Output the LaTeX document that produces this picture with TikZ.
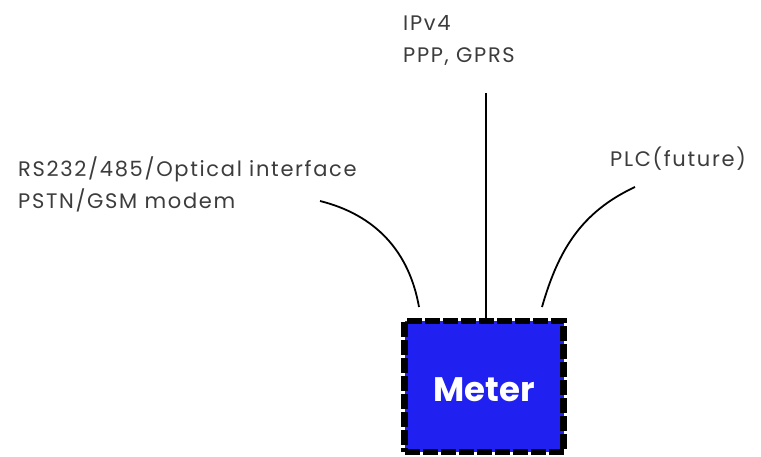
\documentclass[tikz,border=0pt]{standalone}
\usepackage{fontspec}
\setmainfont{Poppins}
\newfontfamily\widefont{Poppins}[LetterSpace=8]
\usetikzlibrary{positioning, calc}
\definecolor{meterblue}{RGB}{32,32,240}
\definecolor{linkgray}{RGB}{60,60,60}
\tikzset{
  meterbox/.style={rectangle, draw=black, fill=meterblue, line width=6.5pt,
                   dash pattern=on 15pt off 3pt, minimum width=159pt,
                   minimum height=131pt, text height=30pt, text=white,
                   font=\fontsize{34}{40}\selectfont\bfseries},
  linktext/.style={inner sep=0pt, align=left, anchor=north west,
                   text=linkgray, font=\widefont\fontsize{21}{32}\selectfont},
  link/.style={line width=1.8pt}
}

\begin{document}
\begin{tikzpicture}[x=1pt, y=1pt]
    \useasboundingbox (0,0) rectangle (761,456);
    \node[meterbox] (meter) at (484,69.5) {Meter};

    % link labels
    \node[linktext] (serial) at (18,299) {RS232/485/Optical interface\\PSTN/GSM modem};
    \node[linktext] (ip) at (403,441) {IPv4\\PPP, GPRS};
    \node[linktext] (plc) at (610,309) {PLC(future)};

    % line ends
    \coordinate (serialstart) at (320,255);
    \coordinate (serialend) at (419,149);
    \coordinate (iptop) at (486,363);
    \coordinate (plcstart) at (635,269);
    \coordinate (plcend) at (542,149);

    \draw[link] (serialstart) to[out=-14, in=100] (serialend);
    \draw[link] (iptop) -- (iptop |- meter.north);
    \draw[link] (plcstart) to[out=205, in=74] (plcend);
\end{tikzpicture}
\end{document}
